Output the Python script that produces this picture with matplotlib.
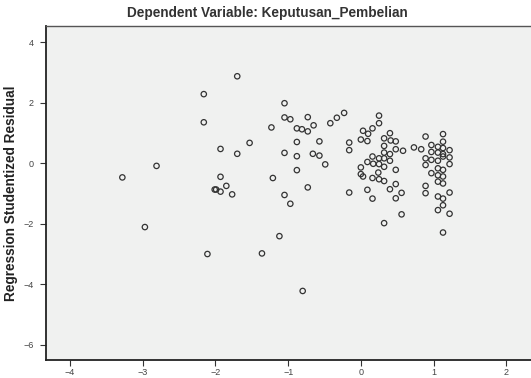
import matplotlib
matplotlib.use("Agg")
import matplotlib.pyplot as plt

# predicted value (standardized) vs studentized residual
pred = [
    -1.70, -2.16, -2.16, -1.93, -1.70, -2.81, -3.28, -1.93, -1.85, -2.01,
    -1.99, -1.93, -1.77, -2.97, -2.11, -1.53, -1.36, -1.12, -1.21, -1.05,
    -0.97, -1.23, -1.05, -1.05, -0.97, -0.88, -0.88, -1.05, -0.88, -0.88,
    -0.73, -0.81, -0.73, -0.65, -0.42, -0.33, -0.23, -0.57, -0.66, -0.57,
    -0.49, -0.73, -0.80, -0.16, -0.16, -0.16, 0.25, 0.25, 0.16, 0.03,
    0.10, 0.00, 0.09, 0.40, 0.32, 0.41, 0.48, 0.32, 0.48, 0.32,
    0.40, 0.16, 0.25, 0.32, 0.40, 0.09, 0.17, 0.25, 0.32, 0.00,
    0.24, 0.48, 0.00, 0.03, 0.16, 0.25, 0.32, 0.48, 0.40, 0.09,
    0.16, 0.48, 0.32, 0.56, 0.58, 0.56, 0.73, 0.83, 0.89, 1.13,
    0.97, 1.06, 1.13, 1.13, 0.97, 1.06, 1.13, 1.22, 0.89, 0.97,
    1.06, 1.13, 1.22, 1.22, 0.89, 1.06, 1.13, 0.97, 1.06, 1.13,
    1.06, 1.13, 0.89, 0.89, 1.22, 1.06, 1.13, 1.13, 1.06, 1.22,
    1.13,
]
resid = [
    2.87, 2.28, 1.35, 0.47, 0.31, -0.09, -0.47, -0.45, -0.75, -0.87,
    -0.87, -0.94, -1.03, -2.11, -3.00, 0.67, -2.98, -2.41, -0.49, -1.05,
    -1.34, 1.18, 1.98, 1.51, 1.45, 1.15, 0.70, 0.34, 0.23, -0.23,
    1.52, 1.12, 1.05, 1.25, 1.32, 1.50, 1.66, 0.72, 0.31, 0.25,
    -0.04, -0.80, -4.22, 0.68, 0.43, -0.97, 1.57, 1.32, 1.15, 1.07,
    0.97, 0.78, 0.73, 0.99, 0.82, 0.75, 0.72, 0.57, 0.46, 0.35,
    0.30, 0.22, 0.16, 0.16, 0.08, 0.04, -0.02, -0.03, -0.12, -0.14,
    -0.31, -0.22, -0.36, -0.44, -0.49, -0.53, -0.59, -0.69, -0.86, -0.88,
    -1.17, -1.16, -1.98, -1.69, 0.41, -0.98, 0.52, 0.46, 0.88, 0.96,
    0.60, 0.54, 0.71, 0.50, 0.37, 0.35, 0.30, 0.43, 0.16, 0.11,
    0.08, 0.22, 0.19, -0.03, -0.06, -0.17, -0.22, -0.33, -0.40, -0.44,
    -0.61, -0.67, -0.75, -0.99, -0.97, -1.10, -1.17, -1.39, -1.55, -1.67,
    -2.29,
]
xticks = [-4, -3, -2, -1, 0, 1, 2]
yticks = [4, 2, 0, -2, -4, -6]

plt.rcParams['font.family'] = ['Liberation Sans', 'DejaVu Sans']

fig = plt.figure(figsize=(5.31, 3.78), dpi=100)
ax = fig.add_axes([46 / 531, 18 / 378, 485 / 531, 334 / 378])
ax.set_facecolor('#f0f1f0')

ax.scatter(pred, resid, s=15, facecolors='none', edgecolors='#333333',
           linewidths=0.9, zorder=3)

ax.set_xlim(-4.33, 2.34)
ax.set_ylim(-6.5, 4.53)
ax.set_xticks(xticks)
ax.set_yticks(yticks)
ax.tick_params(axis='both', direction='out', length=4, width=0.8,
               labelsize=6.5, labelcolor='#444444', color='#333333', pad=2)
ax.tick_params(axis='y', pad=5)

for side in ['left', 'bottom']:
    ax.spines[side].set_linewidth(1.3)
    ax.spines[side].set_color('#222222')
ax.spines['top'].set_linewidth(1.0)
ax.spines['top'].set_color('#555555')
ax.spines['right'].set_visible(False)

ax.set_ylabel('Regression Studentized Residual', fontsize=9.8,
              fontweight='bold', color='#222222')
ax.yaxis.set_label_coords(-0.058, 0.5)
fig.text(267 / 531, 1 - 13 / 378, 'Dependent Variable: Keputusan_Pembelian',
         ha='center', va='center', fontsize=9.8, fontweight='bold',
         color='#333333')

fig.savefig('out.png', dpi=100)
